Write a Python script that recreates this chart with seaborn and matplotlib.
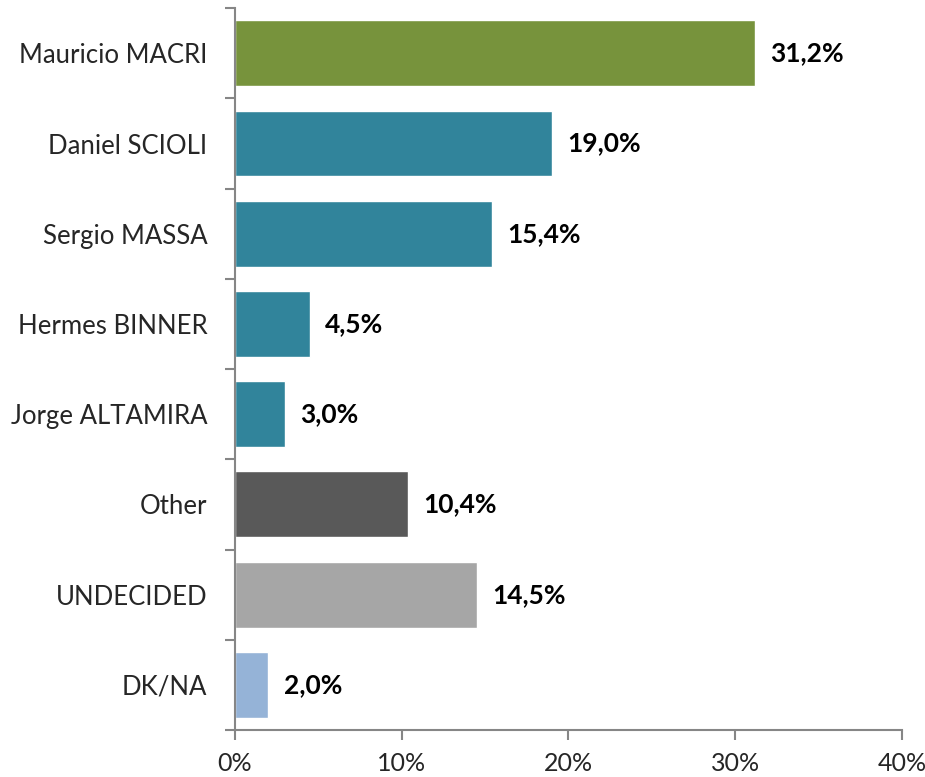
import matplotlib
matplotlib.use("Agg")
import matplotlib.pyplot as plt
import seaborn as sns
import pandas as pd
import numpy as np

candidates = ["Mauricio MACRI", "Daniel SCIOLI", "Sergio MASSA", "Hermes BINNER",
              "Jorge ALTAMIRA", "Other", "UNDECIDED", "DK/NA"]
shares = [31.2, 19.0, 15.4, 4.5, 3.0, 10.4, 14.5, 2.0]
bar_colors = ["#77933C", "#31849B", "#31849B", "#31849B", "#31849B",
              "#595959", "#A6A6A6", "#95B3D7"]
x_ticks = [0, 10, 20, 30, 40]

sns.set_style("white")
plt.rcParams['font.family'] = ['Lato', 'DejaVu Sans']

df = pd.DataFrame({"name": candidates, "share": shares})

fig = plt.figure(figsize=(9.25, 7.77), dpi=100)
ax = fig.add_axes([0.254, 0.0605, 0.721, 0.929])
sns.barplot(data=df, x="share", y="name", hue="name", palette=bar_colors,
            width=0.73, legend=False, ax=ax, saturation=1)

for i, v in enumerate(shares):
    ax.annotate(f"{v:.1f}%".replace(".", ","), (v, i), xytext=(11, 0),
                textcoords="offset points", va="center", ha="left",
                fontsize=19, fontweight="bold", color="black")

ax.set_xlim(0, 40)
ax.set_ylim(len(candidates) - 0.5, -0.5)
ax.set_xticks(x_ticks)
ax.set_xticklabels([f"{t}%" for t in x_ticks], fontsize=18)
ax.set_yticks(range(len(candidates)))
ax.set_yticklabels(candidates, fontsize=18.5)
ax.set_yticks(np.arange(-0.5, len(candidates), 1), minor=True)
ax.tick_params(axis="y", which="major", left=True, length=0, pad=20)
ax.tick_params(axis="y", which="minor", left=True, length=7, color="#868686", width=1.5)
ax.tick_params(axis="x", bottom=True, length=7, color="#868686", width=1.5, pad=9)
ax.set_xlabel("")
ax.set_ylabel("")
for s in ["top", "right"]:
    ax.spines[s].set_visible(False)
for s in ["left", "bottom"]:
    ax.spines[s].set_color("#868686")
    ax.spines[s].set_linewidth(1.5)

fig.savefig("out.png", dpi=100)
